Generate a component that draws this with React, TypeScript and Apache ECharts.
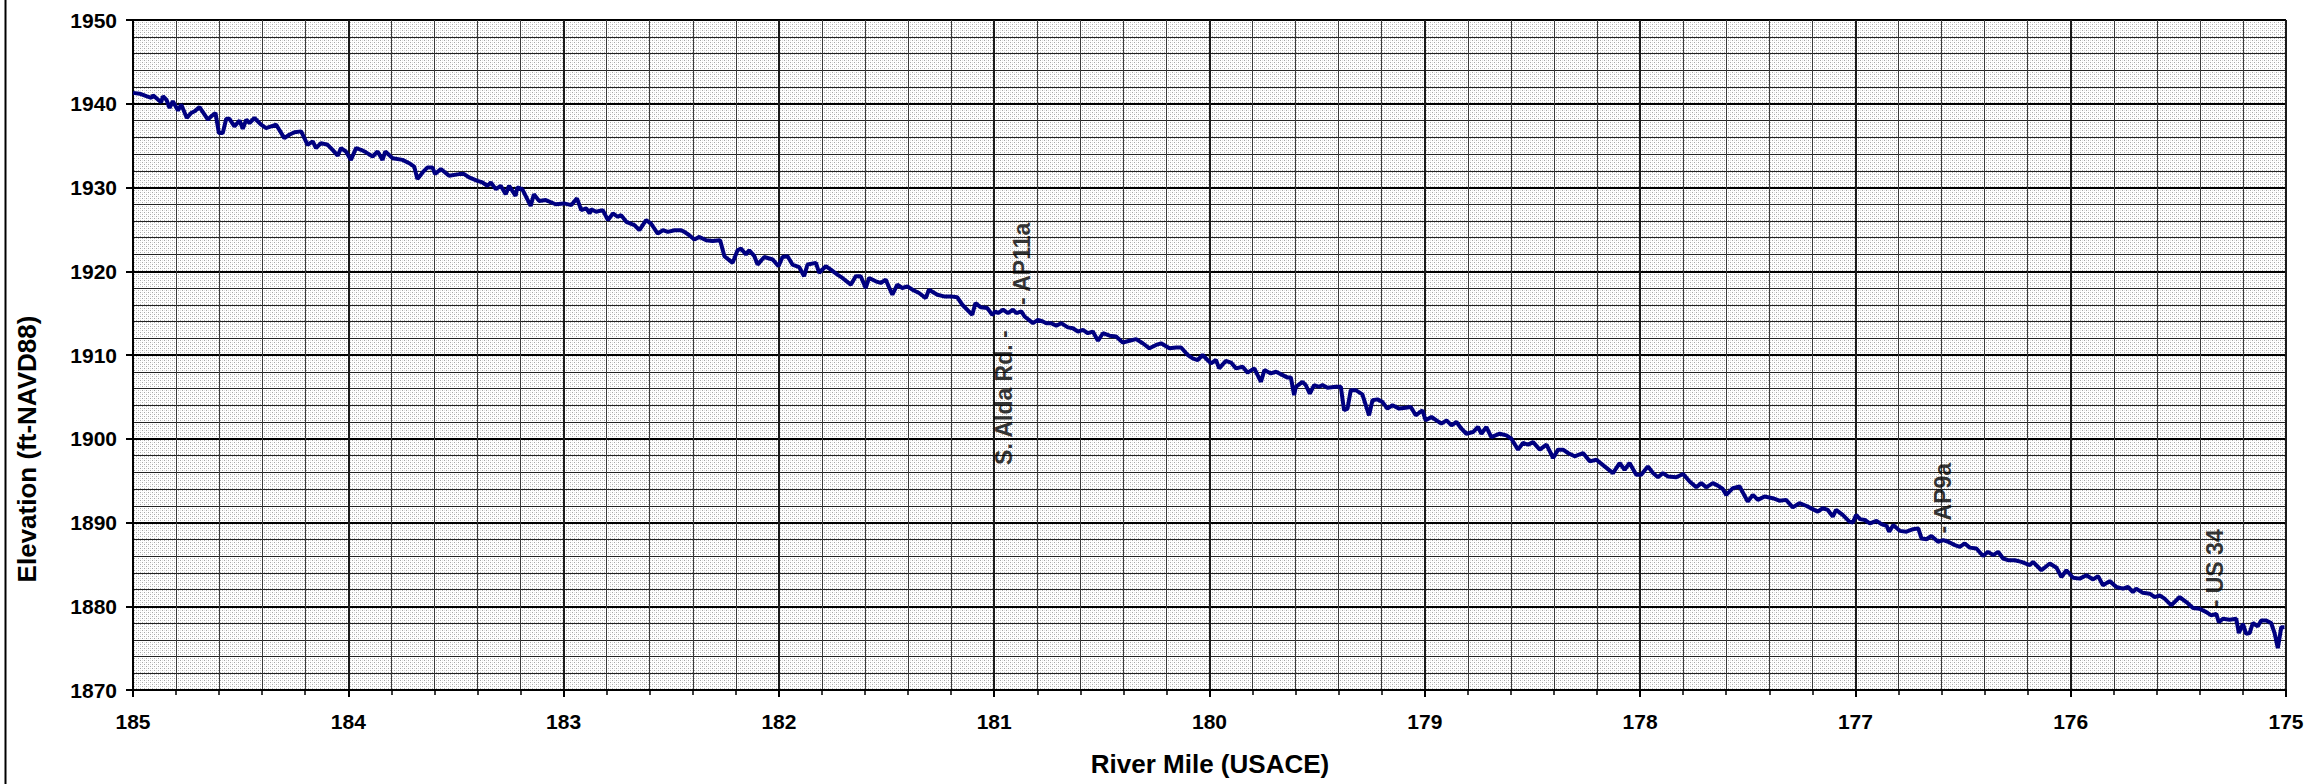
import React, { useEffect, useRef } from 'react';
import * as echarts from 'echarts';

// River profile, [river mile, elevation ft-NAVD88]
const profile185to183: [number, number][] = [
  [185.000,1941.3],[184.969,1941.2],[184.938,1940.9],[184.915,1940.7],[184.907,1941.0],[184.884,1940.5],[184.869,1940.2],[184.861,1940.9],[184.845,1940.5],[184.830,1939.5],[184.815,1940.3],[184.791,1939.2],[184.776,1939.9],[184.750,1938.3],[184.730,1938.9],[184.714,1939.1],[184.691,1939.6],[184.652,1938.1],[184.637,1938.5],[184.617,1938.9],[184.601,1936.5],[184.583,1936.5],[184.567,1938.2],[184.552,1938.2],[184.529,1937.3],[184.505,1938.0],[184.490,1937.0],[184.474,1938.1],[184.459,1937.7],[184.436,1938.3],[184.405,1937.5],[184.382,1937.1],[184.335,1937.5],[184.297,1935.9],[184.274,1936.3],[184.250,1936.6],[184.219,1936.7],[184.189,1935.1],[184.165,1935.5],[184.150,1934.7],[184.127,1935.3],[184.096,1935.1],[184.073,1934.5],[184.049,1933.8],[184.034,1934.7],[184.011,1934.3],[183.988,1933.3],[183.964,1934.7],[183.941,1934.5],[183.918,1934.2],[183.887,1933.7],[183.864,1934.3],[183.841,1933.3],[183.828,1934.3],[183.794,1933.5],[183.748,1933.3],[183.717,1932.9],[183.694,1932.5],[183.679,1931.0],[183.655,1931.8],[183.632,1932.4],[183.609,1932.4],[183.597,1931.6],[183.570,1932.2],[183.532,1931.4],[183.485,1931.6],[183.462,1931.6],[183.439,1931.2],[183.400,1930.8],[183.377,1930.6],[183.354,1930.2],[183.338,1930.6],[183.315,1929.8],[183.292,1930.2],[183.269,1929.2],[183.253,1930.2],[183.223,1929.0],[183.215,1930.0],[183.192,1929.8],[183.153,1927.8],[183.138,1929.2],[183.114,1928.4],[183.083,1928.5],[183.037,1928.0]
];
const profile183to181: [number, number][] = [
  [182.998,1928.1],[182.964,1927.9],[182.938,1928.7],[182.918,1927.3],[182.895,1927.5],[182.879,1926.9],[182.872,1927.4],[182.849,1927.1],[182.818,1927.3],[182.794,1926.1],[182.771,1926.9],[182.748,1926.5],[182.733,1926.7],[182.709,1925.9],[182.671,1925.5],[182.648,1924.9],[182.617,1926.1],[182.594,1925.7],[182.563,1924.5],[182.539,1924.9],[182.516,1924.7],[182.485,1924.9],[182.454,1924.9],[182.439,1924.7],[182.416,1924.3],[182.393,1923.8],[182.369,1924.1],[182.338,1923.7],[182.308,1923.6],[182.273,1923.7],[182.253,1921.8],[182.215,1921.0],[182.192,1922.5],[182.176,1922.7],[182.153,1922.0],[182.138,1922.5],[182.114,1921.8],[182.099,1920.8],[182.068,1921.7],[182.029,1921.4],[182.002,1920.6],[181.983,1921.7],[181.960,1921.8],[181.937,1920.8],[181.906,1920.5],[181.883,1919.4],[181.867,1920.8],[181.828,1921.0],[181.813,1919.8],[181.782,1920.6],[181.759,1920.2],[181.728,1919.6],[181.705,1919.2],[181.666,1918.4],[181.643,1919.4],[181.620,1919.4],[181.597,1918.0],[181.581,1919.2],[181.550,1918.8],[181.527,1918.6],[181.504,1919.0],[181.473,1917.2],[181.450,1918.4],[181.427,1918.0],[181.403,1918.2],[181.380,1917.8],[181.349,1917.4],[181.318,1916.8],[181.303,1917.8],[181.264,1917.2],[181.233,1917.0],[181.202,1917.0],[181.172,1916.9],[181.148,1916.0],[181.102,1914.8],[181.087,1916.2],[181.063,1915.7],[181.032,1915.6],[181.009,1914.8],[180.994,1915.2]
];
const profile181to179: [number, number][] = [
  [180.982,1915.0],[180.959,1915.4],[180.936,1915.0],[180.913,1915.4],[180.897,1915.0],[180.874,1915.2],[180.859,1914.6],[180.820,1913.8],[180.797,1914.2],[180.774,1914.0],[180.758,1913.8],[180.735,1913.8],[180.712,1913.5],[180.689,1913.8],[180.658,1913.3],[180.635,1913.2],[180.611,1912.8],[180.588,1913.0],[180.565,1912.6],[180.542,1912.8],[180.518,1911.7],[180.495,1912.6],[180.464,1912.3],[180.434,1912.2],[180.403,1911.5],[180.372,1911.7],[180.341,1911.9],[180.310,1911.4],[180.279,1910.8],[180.248,1911.2],[180.225,1911.4],[180.186,1910.8],[180.155,1910.9],[180.132,1910.9],[180.101,1910.0],[180.078,1909.6],[180.055,1909.4],[180.032,1910.0],[180.009,1909.4],[179.993,1909.0],[179.970,1909.4],[179.955,1908.4],[179.924,1909.3],[179.900,1909.1],[179.877,1908.4],[179.846,1908.6],[179.823,1907.9],[179.792,1908.4],[179.761,1906.8],[179.745,1908.2],[179.715,1907.8],[179.691,1908.0],[179.660,1907.6],[179.637,1907.3],[179.622,1907.3],[179.607,1905.2],[179.599,1906.2],[179.568,1906.8],[179.553,1906.4],[179.534,1905.4],[179.514,1906.4],[179.491,1906.2],[179.475,1906.4],[179.452,1906.1],[179.413,1906.2],[179.390,1906.2],[179.375,1903.4],[179.359,1903.6],[179.344,1905.8],[179.321,1905.8],[179.290,1905.3],[179.259,1902.8],[179.243,1904.6],[179.220,1904.7],[179.197,1904.4],[179.174,1903.6],[179.150,1904.0],[179.119,1903.6],[179.089,1903.7],[179.065,1903.8],[179.042,1902.8],[179.011,1903.4],[178.996,1902.2]
];
const profile179to177: [number, number][] = [
  [178.969,1902.6],[178.946,1902.2],[178.923,1901.8],[178.899,1902.2],[178.876,1901.6],[178.853,1902.0],[178.830,1901.2],[178.807,1900.6],[178.776,1900.8],[178.753,1901.4],[178.737,1900.6],[178.714,1901.4],[178.691,1900.2],[178.652,1900.6],[178.621,1900.4],[178.598,1900.0],[178.567,1898.7],[178.544,1899.5],[178.520,1899.3],[178.497,1899.6],[178.466,1898.7],[178.435,1899.3],[178.404,1897.7],[178.381,1898.7],[178.358,1898.7],[178.335,1898.3],[178.304,1897.9],[178.265,1898.3],[178.234,1897.3],[178.203,1897.5],[178.165,1896.7],[178.126,1895.9],[178.095,1897.1],[178.072,1896.3],[178.049,1897.1],[178.018,1895.7],[177.995,1895.7],[177.964,1896.7],[177.940,1895.9],[177.917,1895.4],[177.894,1895.9],[177.871,1895.5],[177.832,1895.4],[177.801,1895.8],[177.770,1894.9],[177.739,1894.2],[177.716,1894.7],[177.693,1894.2],[177.662,1894.7],[177.639,1894.4],[177.616,1894.0],[177.600,1893.3],[177.569,1894.1],[177.538,1894.3],[177.500,1892.5],[177.476,1893.3],[177.453,1892.7],[177.422,1893.1],[177.384,1892.9],[177.353,1892.6],[177.322,1892.7],[177.291,1891.8],[177.260,1892.3],[177.229,1892.0],[177.198,1891.6],[177.175,1891.3],[177.152,1891.7],[177.128,1891.5],[177.105,1890.7],[177.090,1891.5],[177.059,1890.9],[177.028,1890.1],[177.012,1890.0],[176.997,1890.9]
];
const profile177to175: [number, number][] = [
  [176.979,1890.4],[176.956,1890.3],[176.933,1889.9],[176.902,1890.2],[176.879,1889.8],[176.855,1889.6],[176.843,1888.9],[176.824,1889.7],[176.794,1889.0],[176.763,1888.9],[176.732,1889.2],[176.708,1889.3],[176.693,1888.1],[176.670,1888.0],[176.647,1888.4],[176.616,1887.7],[176.592,1887.9],[176.569,1887.7],[176.538,1887.3],[176.515,1887.1],[176.492,1887.5],[176.469,1887.0],[176.438,1886.9],[176.407,1886.0],[176.384,1886.5],[176.360,1886.1],[176.337,1886.5],[176.314,1885.7],[176.291,1885.5],[176.260,1885.5],[176.229,1885.3],[176.190,1884.9],[176.175,1885.3],[176.136,1884.3],[176.097,1885.1],[176.066,1884.6],[176.043,1883.5],[176.020,1884.3],[175.989,1883.4],[175.958,1883.3],[175.927,1883.7],[175.896,1883.2],[175.873,1883.6],[175.850,1882.5],[175.819,1883.0],[175.788,1882.3],[175.757,1882.1],[175.734,1882.3],[175.711,1881.7],[175.696,1882.1],[175.665,1881.6],[175.633,1881.5],[175.610,1881.1],[175.587,1881.3],[175.564,1880.9],[175.533,1880.1],[175.494,1881.1],[175.463,1880.5],[175.432,1879.8],[175.401,1879.7],[175.370,1879.3],[175.347,1878.9],[175.324,1879.1],[175.312,1878.1],[175.293,1878.5],[175.262,1878.4],[175.231,1878.5],[175.219,1876.8],[175.200,1877.9],[175.185,1876.7],[175.169,1876.8],[175.154,1878.0],[175.131,1877.6],[175.115,1878.3],[175.092,1878.3],[175.069,1878.0],[175.053,1876.8],[175.038,1875.0],[175.022,1877.5],[175.007,1877.5]
];

// Point annotations
const noteMiles = [180.956, 180.87, 176.593, 175.33];
const noteElevs = [1915.4, 1915.2, 1887.9, 1879.1];
const noteTexts = ['S. Alda Rd. -', '- AP11a', '- AP9a', '- US 34'];
const noteSides = ['below', 'above', 'above', 'above'];

const FONT = '"Liberation Sans", Arial, Helvetica, sans-serif';

function makeStipple(): HTMLCanvasElement {
  const c = document.createElement('canvas');
  c.width = 4;
  c.height = 4;
  const ctx = c.getContext('2d')!;
  ctx.fillStyle = '#ffffff';
  ctx.fillRect(0, 0, 4, 4);
  ctx.fillStyle = '#a8a8a8';
  ctx.fillRect(0, 0, 1, 1);
  ctx.fillRect(2, 2, 1, 1);
  ctx.fillStyle = '#e2e2e2';
  ctx.fillRect(2, 0, 1, 1);
  ctx.fillRect(0, 2, 1, 1);
  return c;
}

export default function App() {
  const ref = useRef<HTMLDivElement>(null);

  useEffect(() => {
    if (!ref.current) return;
    const chart = echarts.init(ref.current, null, { renderer: 'svg' });
    const profile = [
      ...profile185to183,
      ...profile183to181,
      ...profile181to179,
      ...profile179to177,
      ...profile177to175,
    ];
    const notes = noteMiles.map((m, i) => {
      const below = noteSides[i] === 'below';
      return {
        value: [m, noteElevs[i]],
        label: {
          show: true,
          formatter: noteTexts[i],
          position: below ? 'bottom' : 'top',
          distance: below ? 20 : 6,
          align: below ? 'right' : 'left',
          verticalAlign: 'middle',
          rotate: 90,
          color: '#000',
          fontFamily: FONT,
          fontSize: 23,
          fontWeight: 'bold',
        },
      };
    });

    const option: any = {
      animation: false,
      backgroundColor: '#ffffff',
      grid: {
        left: 133,
        right: 29,
        top: 20,
        bottom: 94,
        show: true,
        borderWidth: 0,
        backgroundColor: { image: makeStipple(), repeat: 'repeat', imageWidth: 4, imageHeight: 4 },
      },
      xAxis: {
        type: 'value',
        min: 175,
        max: 185,
        interval: 1,
        inverse: true,
        axisLine: { show: true, onZero: false, lineStyle: { color: '#000', width: 2 } },
        axisTick: { show: true, length: 7, lineStyle: { color: '#000', width: 2 } },
        minorTick: { show: true, splitNumber: 5, length: 5, lineStyle: { color: '#000', width: 1.5 } },
        splitLine: { show: true, lineStyle: { color: '#1a1a1a', width: 2 } },
        minorSplitLine: { show: true, lineStyle: { color: '#3a3a3a', width: 1 } },
        axisLabel: {
          margin: 21,
          color: '#000',
          fontFamily: FONT,
          fontSize: 21,
          fontWeight: 'bold',
          formatter: (v: number) => String(v),
        },
      },
      yAxis: {
        type: 'value',
        min: 1870,
        max: 1950,
        interval: 10,
        axisLine: { show: true, onZero: false, lineStyle: { color: '#000', width: 2 } },
        axisTick: { show: true, length: 7, lineStyle: { color: '#000', width: 2 } },
        minorTick: { show: false, splitNumber: 5 },
        splitLine: { show: true, lineStyle: { color: '#000', width: 2 } },
        minorSplitLine: { show: true, lineStyle: { color: '#222', width: 1 } },
        axisLabel: {
          margin: 16,
          color: '#000',
          fontFamily: FONT,
          fontSize: 21,
          fontWeight: 'bold',
          formatter: (v: number) => String(v),
        },
      },
      series: [
        {
          name: 'Thalweg',
          type: 'line',
          data: profile,
          showSymbol: false,
          symbol: 'none',
          lineStyle: { color: '#000080', width: 4 },
          z: 3,
        },
        {
          name: 'Notes',
          type: 'scatter',
          data: notes,
          symbolSize: 1,
          itemStyle: { color: 'rgba(0,0,0,0)' },
          z: 4,
        },
      ],
      graphic: [
        {
          type: 'line',
          shape: { x1: 5.5, y1: 0, x2: 5.5, y2: 784 },
          style: { stroke: '#000', lineWidth: 2 },
        },
        {
          type: 'text',
          x: 27,
          y: 449,
          rotation: Math.PI / 2,
          style: {
            text: 'Elevation (ft-NAVD88)',
            fill: '#000',
            font: `bold 26px ${FONT}`,
            textAlign: 'center',
            textVerticalAlign: 'middle',
            align: 'center',
            verticalAlign: 'middle',
          },
        },
        {
          type: 'text',
          x: 1210,
          y: 764,
          style: {
            text: 'River Mile (USACE)',
            fill: '#000',
            font: `bold 26px ${FONT}`,
            textAlign: 'center',
            textVerticalAlign: 'middle',
            align: 'center',
            verticalAlign: 'middle',
          },
        },
      ],
    };
    chart.setOption(option);
    return () => chart.dispose();
  }, []);

  return (
    <div
      ref={ref}
      style={{ position: 'absolute', left: 0, top: 0, width: 2315, height: 784, background: '#fff' }}
    />
  );
}
